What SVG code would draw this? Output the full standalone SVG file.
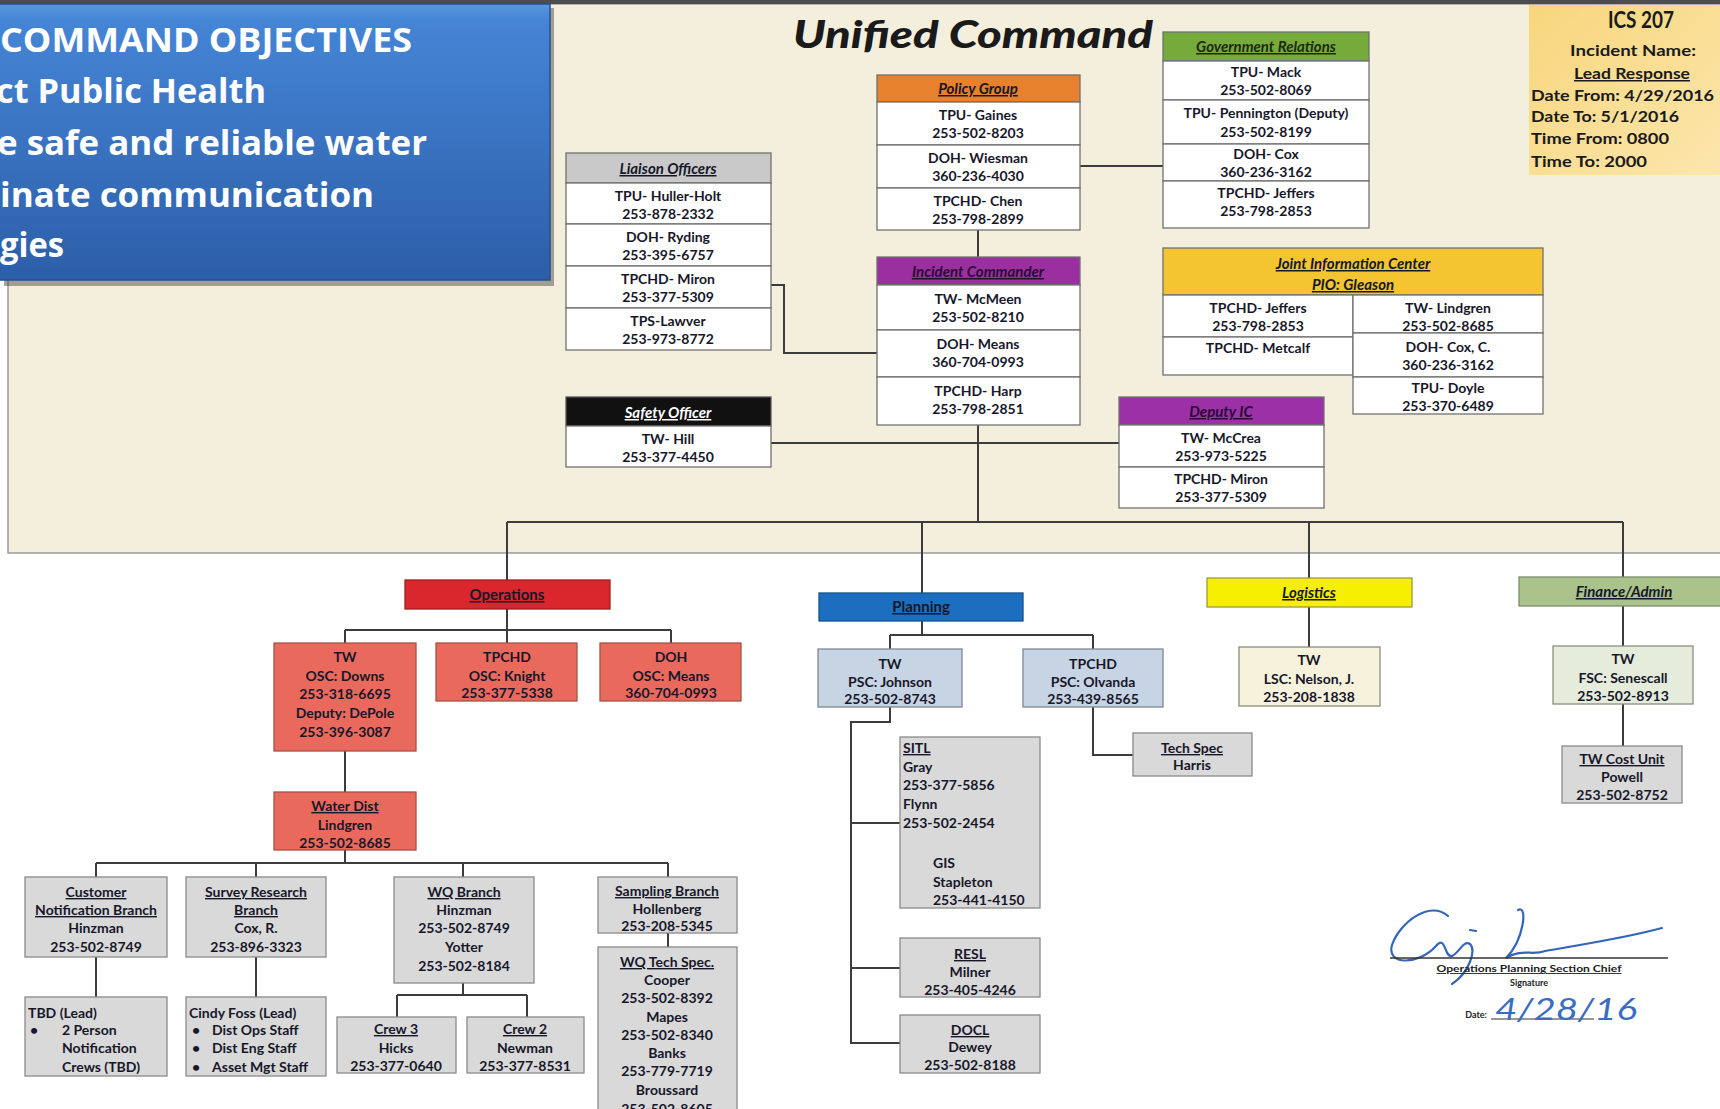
<svg xmlns="http://www.w3.org/2000/svg" width="1720" height="1109" viewBox="0 0 1720 1109">
<defs>
<linearGradient id="blueGrad" x1="0" y1="0" x2="0" y2="1">
<stop offset="0" stop-color="#5b97e0"/>
<stop offset="0.06" stop-color="#4585d6"/>
<stop offset="1" stop-color="#2c5ea8"/>
</linearGradient>
<linearGradient id="icsGrad" x1="0" y1="0" x2="1" y2="1">
<stop offset="0" stop-color="#f7d67c"/>
<stop offset="1" stop-color="#fbe6ad"/>
</linearGradient>
<style>
.cell{fill:#ffffff;stroke:#707070;stroke-width:1.3}
.t{font-family:Lato,"Liberation Sans",sans-serif;font-weight:700;font-size:14px;fill:#17172a;text-anchor:middle}
.tl{text-anchor:start}
.h{font-style:italic;font-size:15px;text-decoration:underline}
.u{text-decoration:underline}
.ln{fill:none;stroke:#3c3c3c;stroke-width:2}
.gbox{fill:#d9d9d9;stroke:#8a8a8a;stroke-width:1.3}
.ops{fill:#e96a5c;stroke:#a85048;stroke-width:1.3}
.psc{fill:#c7d4e4;stroke:#7d8896;stroke-width:1.3}
.obj{font-family:"Open Sans",Lato,"Liberation Sans",sans-serif;font-weight:700;font-size:34px;fill:#ffffff}
.ics{font-family:Lato,"Liberation Sans",sans-serif;font-weight:700;font-size:15px;fill:#1a1a1a}
.icsT{font-family:Lato,"Liberation Sans",sans-serif;font-weight:700;font-size:23px;fill:#1a1a1a;text-anchor:middle}
.sig{font-family:Lato,"Liberation Sans",sans-serif;font-weight:700;font-size:9px;fill:#222;text-anchor:middle}
</style>
</defs>

<!-- page background -->
<rect x="0" y="0" width="1720" height="1109" fill="#ffffff"/>
<rect x="8" y="4" width="1720" height="549" fill="#f4efdc" stroke="#9a9a9a" stroke-width="1.5"/>
<rect x="0" y="0" width="1720" height="4" fill="#4d4d4d"/>

<!-- objectives panel -->
<g id="objectives">
<rect x="4" y="8" width="550" height="278" fill="#3a3a3a" opacity="0.45"/>
<rect x="-2" y="4" width="552" height="276" fill="url(#blueGrad)" stroke="#24508f" stroke-width="1.5"/>
<text class="obj" x="0" y="52" textLength="412" lengthAdjust="spacingAndGlyphs">COMMAND OBJECTIVES</text>
<text class="obj" x="-4" y="103" textLength="270" lengthAdjust="spacingAndGlyphs">ct Public Health</text>
<text class="obj" x="-3" y="155" textLength="430" lengthAdjust="spacingAndGlyphs">e safe and reliable water</text>
<text class="obj" x="0" y="207" textLength="374" lengthAdjust="spacingAndGlyphs">inate communication</text>
<text class="obj" x="0" y="257" textLength="64" lengthAdjust="spacingAndGlyphs">gies</text>
</g>

<g id="title">
<text x="793" y="48" font-family="Lato,'Liberation Sans',sans-serif" font-weight="900" font-style="italic" font-size="38" fill="#1a1a1a" textLength="360" lengthAdjust="spacingAndGlyphs">Unified Command</text>
</g>

<g id="ics-207">
<rect x="1529" y="5" width="200" height="170" fill="url(#icsGrad)"/>
<text class="icsT" x="1641" y="28" textLength="66" lengthAdjust="spacingAndGlyphs">ICS 207</text>
<text class="ics" x="1633" y="56" text-anchor="middle" textLength="126" lengthAdjust="spacingAndGlyphs">Incident Name:</text>
<text class="ics u" x="1632" y="79" text-anchor="middle" textLength="116" lengthAdjust="spacingAndGlyphs">Lead Response</text>
<text class="ics" x="1531" y="101" textLength="183" lengthAdjust="spacingAndGlyphs">Date From: 4/29/2016</text>
<text class="ics" x="1531" y="122" textLength="148" lengthAdjust="spacingAndGlyphs">Date To: 5/1/2016</text>
<text class="ics" x="1531" y="144" textLength="138" lengthAdjust="spacingAndGlyphs">Time From: 0800</text>
<text class="ics" x="1531" y="167" textLength="116" lengthAdjust="spacingAndGlyphs">Time To: 2000</text>
</g>

<!-- connectors -->
<g id="connectors">
<path class="ln" d="M978,230 V257"/>
<path class="ln" d="M1080,166 H1163"/>
<path class="ln" d="M771,285 H784 V353 H877"/>
<path class="ln" d="M771,443 H1119"/>
<path class="ln" d="M978,425 V522"/>
<path class="ln" d="M507,522 H1623"/>
<path class="ln" d="M507,522 V580 M507,609 V643 M345,630 H671 M345,630 V643 M671,630 V643"/>
<path class="ln" d="M345,751 V792 M345,850 V863 M96,863 H668 M96,863 V877 M256,863 V877 M463,863 V877 M668,863 V877"/>
<path class="ln" d="M96,957 V997 M256,957 V997 M463,983 V995 M397,995 H527 M397,995 V1017 M527,995 V1017 M668,933 V947"/>
<path class="ln" d="M922,522 V593 M922,621 V635 M890,635 H1093 M890,635 V649 M1093,635 V649"/>
<path class="ln" d="M890,707 V722 H851 V1043 H900 M851,823 H900 M851,968 H900"/>
<path class="ln" d="M1093,707 V755 H1133"/>
<path class="ln" d="M1309,522 V578 M1309,607 V647"/>
<path class="ln" d="M1623,522 V577 M1623,606 V646 M1623,704 V746"/>
</g>

<g id="liaison-officers">
<rect x="566" y="153" width="205" height="30" fill="#c9c9c9" stroke="#707070" stroke-width="1.3"/>
<rect class="cell" x="566" y="183" width="205" height="41"/>
<rect class="cell" x="566" y="224" width="205" height="42"/>
<rect class="cell" x="566" y="266" width="205" height="42"/>
<rect class="cell" x="566" y="308" width="205" height="42"/>
<text class="t h" x="668" y="174">Liaison Officers</text>
<text class="t" x="668" y="201">TPU- Huller-Holt</text>
<text class="t" x="668" y="219">253-878-2332</text>
<text class="t" x="668" y="242">DOH- Ryding</text>
<text class="t" x="668" y="260">253-395-6757</text>
<text class="t" x="668" y="284">TPCHD- Miron</text>
<text class="t" x="668" y="302">253-377-5309</text>
<text class="t" x="668" y="326">TPS-Lawver</text>
<text class="t" x="668" y="344">253-973-8772</text>
</g>

<g id="safety-officer">
<rect x="566" y="397" width="205" height="29" fill="#111111" stroke="#555" stroke-width="1.3"/>
<rect class="cell" x="566" y="426" width="205" height="41"/>
<text class="t h" x="668" y="418" style="fill:#ffffff">Safety Officer</text>
<text class="t" x="668" y="444">TW- Hill</text>
<text class="t" x="668" y="462">253-377-4450</text>
</g>

<g id="policy-group">
<rect x="877" y="75" width="203" height="27" fill="#e8812e" stroke="#707070" stroke-width="1.3"/>
<rect class="cell" x="877" y="102" width="203" height="43"/>
<rect class="cell" x="877" y="145" width="203" height="43"/>
<rect class="cell" x="877" y="188" width="203" height="42"/>
<text class="t h" x="978" y="94">Policy Group</text>
<text class="t" x="978" y="120">TPU- Gaines</text>
<text class="t" x="978" y="138">253-502-8203</text>
<text class="t" x="978" y="163">DOH- Wiesman</text>
<text class="t" x="978" y="181">360-236-4030</text>
<text class="t" x="978" y="206">TPCHD- Chen</text>
<text class="t" x="978" y="224">253-798-2899</text>
</g>

<g id="incident-commander">
<rect x="877" y="257" width="203" height="28" fill="#9c2f9f" stroke="#707070" stroke-width="1.3"/>
<rect class="cell" x="877" y="285" width="203" height="45"/>
<rect class="cell" x="877" y="330" width="203" height="47"/>
<rect class="cell" x="877" y="377" width="203" height="48"/>
<text class="t h" x="978" y="277" style="fill:#2a0a35">Incident Commander</text>
<text class="t" x="978" y="304">TW- McMeen</text>
<text class="t" x="978" y="322">253-502-8210</text>
<text class="t" x="978" y="349">DOH- Means</text>
<text class="t" x="978" y="367">360-704-0993</text>
<text class="t" x="978" y="396">TPCHD- Harp</text>
<text class="t" x="978" y="414">253-798-2851</text>
</g>

<g id="government-relations">
<rect x="1163" y="32" width="206" height="29" fill="#76ab3c" stroke="#707070" stroke-width="1.3"/>
<rect class="cell" x="1163" y="61" width="206" height="39"/>
<rect class="cell" x="1163" y="100" width="206" height="44"/>
<rect class="cell" x="1163" y="144" width="206" height="37"/>
<rect class="cell" x="1163" y="181" width="206" height="47"/>
<text class="t h" x="1266" y="52" style="fill:#1d2a10">Government Relations</text>
<text class="t" x="1266" y="77">TPU- Mack</text>
<text class="t" x="1266" y="95">253-502-8069</text>
<text class="t" x="1266" y="118">TPU- Pennington (Deputy)</text>
<text class="t" x="1266" y="137">253-502-8199</text>
<text class="t" x="1266" y="159">DOH- Cox</text>
<text class="t" x="1266" y="177">360-236-3162</text>
<text class="t" x="1266" y="198">TPCHD- Jeffers</text>
<text class="t" x="1266" y="216">253-798-2853</text>
</g>

<g id="joint-information-center">
<rect x="1163" y="248" width="380" height="47" fill="#f4c431" stroke="#707070" stroke-width="1.3"/>
<rect class="cell" x="1163" y="295" width="190" height="42"/>
<rect class="cell" x="1163" y="337" width="190" height="38"/>
<rect class="cell" x="1353" y="295" width="190" height="38"/>
<rect class="cell" x="1353" y="333" width="190" height="44"/>
<rect class="cell" x="1353" y="377" width="190" height="37"/>
<text class="t h" x="1353" y="269">Joint Information Center</text>
<text class="t h" x="1353" y="290">PIO: Gleason</text>
<text class="t" x="1258" y="313">TPCHD- Jeffers</text>
<text class="t" x="1258" y="331">253-798-2853</text>
<text class="t" x="1258" y="353">TPCHD- Metcalf</text>
<text class="t" x="1448" y="313">TW- Lindgren</text>
<text class="t" x="1448" y="331">253-502-8685</text>
<text class="t" x="1448" y="352">DOH- Cox, C.</text>
<text class="t" x="1448" y="370">360-236-3162</text>
<text class="t" x="1448" y="393">TPU- Doyle</text>
<text class="t" x="1448" y="411">253-370-6489</text>
</g>

<g id="deputy-ic">
<rect x="1119" y="397" width="205" height="28" fill="#9c30a6" stroke="#707070" stroke-width="1.3"/>
<rect class="cell" x="1119" y="425" width="205" height="42"/>
<rect class="cell" x="1119" y="467" width="205" height="41"/>
<text class="t h" x="1221" y="417" style="fill:#2a0a35">Deputy IC</text>
<text class="t" x="1221" y="443">TW- McCrea</text>
<text class="t" x="1221" y="461">253-973-5225</text>
<text class="t" x="1221" y="484">TPCHD- Miron</text>
<text class="t" x="1221" y="502">253-377-5309</text>
</g>

<!-- Operations -->
<g id="operations">
<rect x="405" y="580" width="205" height="29" fill="#d9272d" stroke="#a02020" stroke-width="1.3"/>
<text class="t u" x="507" y="600" style="font-size:15px">Operations</text>
</g>
<g id="ops-tw">
<rect class="ops" x="274" y="643" width="142" height="108"/>
<text class="t" x="345" y="662">TW</text>
<text class="t" x="345" y="681">OSC: Downs</text>
<text class="t" x="345" y="699">253-318-6695</text>
<text class="t" x="345" y="718">Deputy: DePole</text>
<text class="t" x="345" y="737">253-396-3087</text>
</g>
<g id="ops-tpchd">
<rect class="ops" x="436" y="643" width="141" height="58"/>
<text class="t" x="507" y="662">TPCHD</text>
<text class="t" x="507" y="681">OSC: Knight</text>
<text class="t" x="507" y="698">253-377-5338</text>
</g>
<g id="ops-doh">
<rect class="ops" x="600" y="643" width="141" height="58"/>
<text class="t" x="671" y="662">DOH</text>
<text class="t" x="671" y="681">OSC: Means</text>
<text class="t" x="671" y="698">360-704-0993</text>
</g>
<g id="water-dist">
<rect class="ops" x="274" y="792" width="142" height="58"/>
<text class="t u" x="345" y="811">Water Dist</text>
<text class="t" x="345" y="830">Lindgren</text>
<text class="t" x="345" y="848">253-502-8685</text>
</g>
<g id="customer-notification">
<rect class="gbox" x="25" y="877" width="142" height="80"/>
<text class="t u" x="96" y="897">Customer</text>
<text class="t u" x="96" y="915">Notification Branch</text>
<text class="t" x="96" y="933">Hinzman</text>
<text class="t" x="96" y="952">253-502-8749</text>
</g>
<g id="survey-research">
<rect class="gbox" x="186" y="877" width="140" height="80"/>
<text class="t u" x="256" y="897">Survey Research</text>
<text class="t u" x="256" y="915">Branch</text>
<text class="t" x="256" y="933">Cox, R.</text>
<text class="t" x="256" y="952">253-896-3323</text>
</g>
<g id="wq-branch">
<rect class="gbox" x="394" y="877" width="140" height="106"/>
<text class="t u" x="464" y="897">WQ Branch</text>
<text class="t" x="464" y="915">Hinzman</text>
<text class="t" x="464" y="933">253-502-8749</text>
<text class="t" x="464" y="952">Yotter</text>
<text class="t" x="464" y="971">253-502-8184</text>
</g>
<g id="sampling-branch">
<rect class="gbox" x="598" y="877" width="139" height="56"/>
<text class="t u" x="667" y="896">Sampling Branch</text>
<text class="t" x="667" y="914">Hollenberg</text>
<text class="t" x="667" y="931">253-208-5345</text>
</g>
<g id="wq-tech-spec">
<rect class="gbox" x="598" y="947" width="139" height="170"/>
<text class="t u" x="667" y="967">WQ Tech Spec.</text>
<text class="t" x="667" y="985">Cooper</text>
<text class="t" x="667" y="1003">253-502-8392</text>
<text class="t" x="667" y="1022">Mapes</text>
<text class="t" x="667" y="1040">253-502-8340</text>
<text class="t" x="667" y="1058">Banks</text>
<text class="t" x="667" y="1076">253-779-7719</text>
<text class="t" x="667" y="1095">Broussard</text>
<text class="t" x="667" y="1114">253-502-8605</text>
</g>
<g id="tbd-lead">
<rect class="gbox" x="25" y="997" width="142" height="79"/>
<text class="t tl" x="28" y="1018">TBD (Lead)</text>
<text class="t tl" x="30" y="1035">•</text>
<text class="t tl" x="62" y="1035">2 Person</text>
<text class="t tl" x="62" y="1053">Notification</text>
<text class="t tl" x="62" y="1072">Crews (TBD)</text>
</g>
<g id="cindy-foss-lead">
<rect class="gbox" x="186" y="997" width="140" height="79"/>
<text class="t tl" x="189" y="1018">Cindy Foss (Lead)</text>
<text class="t tl" x="192" y="1035">•</text>
<text class="t tl" x="212" y="1035">Dist Ops Staff</text>
<text class="t tl" x="192" y="1053">•</text>
<text class="t tl" x="212" y="1053">Dist Eng Staff</text>
<text class="t tl" x="192" y="1072">•</text>
<text class="t tl" x="212" y="1072">Asset Mgt Staff</text>
</g>
<g id="crew-3">
<rect class="gbox" x="337" y="1017" width="119" height="56"/>
<text class="t u" x="396" y="1034">Crew 3</text>
<text class="t" x="396" y="1053">Hicks</text>
<text class="t" x="396" y="1071">253-377-0640</text>
</g>
<g id="crew-2">
<rect class="gbox" x="467" y="1017" width="117" height="56"/>
<text class="t u" x="525" y="1034">Crew 2</text>
<text class="t" x="525" y="1053">Newman</text>
<text class="t" x="525" y="1071">253-377-8531</text>
</g>

<!-- Planning -->
<g id="planning">
<rect x="819" y="593" width="204" height="28" fill="#1b6fbe" stroke="#15508a" stroke-width="1.3"/>
<text class="t u" x="921" y="612" style="font-size:15px">Planning</text>
</g>
<g id="planning-tw">
<rect class="psc" x="818" y="649" width="144" height="58"/>
<text class="t" x="890" y="669">TW</text>
<text class="t" x="890" y="687">PSC: Johnson</text>
<text class="t" x="890" y="704">253-502-8743</text>
</g>
<g id="planning-tpchd">
<rect class="psc" x="1023" y="649" width="140" height="58"/>
<text class="t" x="1093" y="669">TPCHD</text>
<text class="t" x="1093" y="687">PSC: Olvanda</text>
<text class="t" x="1093" y="704">253-439-8565</text>
</g>
<g id="tech-spec">
<rect class="gbox" x="1133" y="733" width="119" height="43"/>
<text class="t u" x="1192" y="753">Tech Spec</text>
<text class="t" x="1192" y="770">Harris</text>
</g>
<g id="sitl">
<rect class="gbox" x="900" y="737" width="140" height="171"/>
<text class="t tl u" x="903" y="753">SITL</text>
<text class="t tl" x="903" y="772">Gray</text>
<text class="t tl" x="903" y="790">253-377-5856</text>
<text class="t tl" x="903" y="809">Flynn</text>
<text class="t tl" x="903" y="828">253-502-2454</text>
<text class="t tl" x="933" y="868">GIS</text>
<text class="t tl" x="933" y="887">Stapleton</text>
<text class="t tl" x="933" y="905">253-441-4150</text>
</g>
<g id="resl">
<rect class="gbox" x="900" y="938" width="140" height="59"/>
<text class="t u" x="970" y="959">RESL</text>
<text class="t" x="970" y="977">Milner</text>
<text class="t" x="970" y="995">253-405-4246</text>
</g>
<g id="docl">
<rect class="gbox" x="900" y="1015" width="140" height="58"/>
<text class="t u" x="970" y="1035">DOCL</text>
<text class="t" x="970" y="1052">Dewey</text>
<text class="t" x="970" y="1070">253-502-8188</text>
</g>

<!-- Logistics -->
<g id="logistics">
<rect x="1207" y="578" width="205" height="29" fill="#f6ef00" stroke="#9a9a40" stroke-width="1.3"/>
<text class="t h" x="1309" y="598">Logistics</text>
</g>
<g id="logistics-tw">
<rect x="1239" y="647" width="141" height="59" fill="#f7f2dc" stroke="#8a8a80" stroke-width="1.3"/>
<text class="t" x="1309" y="665">TW</text>
<text class="t" x="1309" y="684">LSC: Nelson, J.</text>
<text class="t" x="1309" y="702">253-208-1838</text>
</g>

<!-- Finance -->
<g id="finance-admin">
<rect x="1519" y="577" width="215" height="29" fill="#a9c38b" stroke="#7c8c6c" stroke-width="1.3"/>
<text class="t h" x="1624" y="597">Finance/Admin</text>
</g>
<g id="finance-tw">
<rect x="1553" y="646" width="140" height="58" fill="#e5ecdc" stroke="#8a9080" stroke-width="1.3"/>
<text class="t" x="1623" y="664">TW</text>
<text class="t" x="1623" y="683">FSC: Senescall</text>
<text class="t" x="1623" y="701">253-502-8913</text>
</g>
<g id="tw-cost-unit">
<rect class="gbox" x="1562" y="746" width="120" height="57"/>
<text class="t u" x="1622" y="764">TW Cost Unit</text>
<text class="t" x="1622" y="782">Powell</text>
<text class="t" x="1622" y="800">253-502-8752</text>
</g>

<!-- signature block -->
<g id="signature">
<path d="M1448,916 C1430,900 1400,922 1392,945 C1386,965 1418,966 1436,946 C1446,934 1444,958 1452,956 C1460,952 1463,940 1470,944 C1476,950 1470,972 1452,984 M1470,930 L1476,931 M1518,910 C1528,904 1524,940 1506,958 C1522,948 1532,956 1545,951 C1585,944 1625,938 1662,928" fill="none" stroke="#3366bb" stroke-width="2.2" stroke-linecap="round"/>
<line x1="1390" y1="958" x2="1668" y2="958" stroke="#333" stroke-width="1.6"/>
<text class="sig u" x="1529" y="972" textLength="185" lengthAdjust="spacingAndGlyphs">Operations Planning Section Chief</text>
<text class="sig" x="1529" y="986">Signature</text>
<text class="sig" x="1476" y="1018">Date:</text>
<line x1="1491" y1="1019" x2="1594" y2="1019" stroke="#333" stroke-width="1.2"/>
<text x="1495" y="1020" font-family="Lato,'DejaVu Sans',sans-serif" font-weight="400" font-style="italic" font-size="31" fill="#3b6cc4" textLength="142" lengthAdjust="spacingAndGlyphs">4/28/16</text>
</g>
</svg>
